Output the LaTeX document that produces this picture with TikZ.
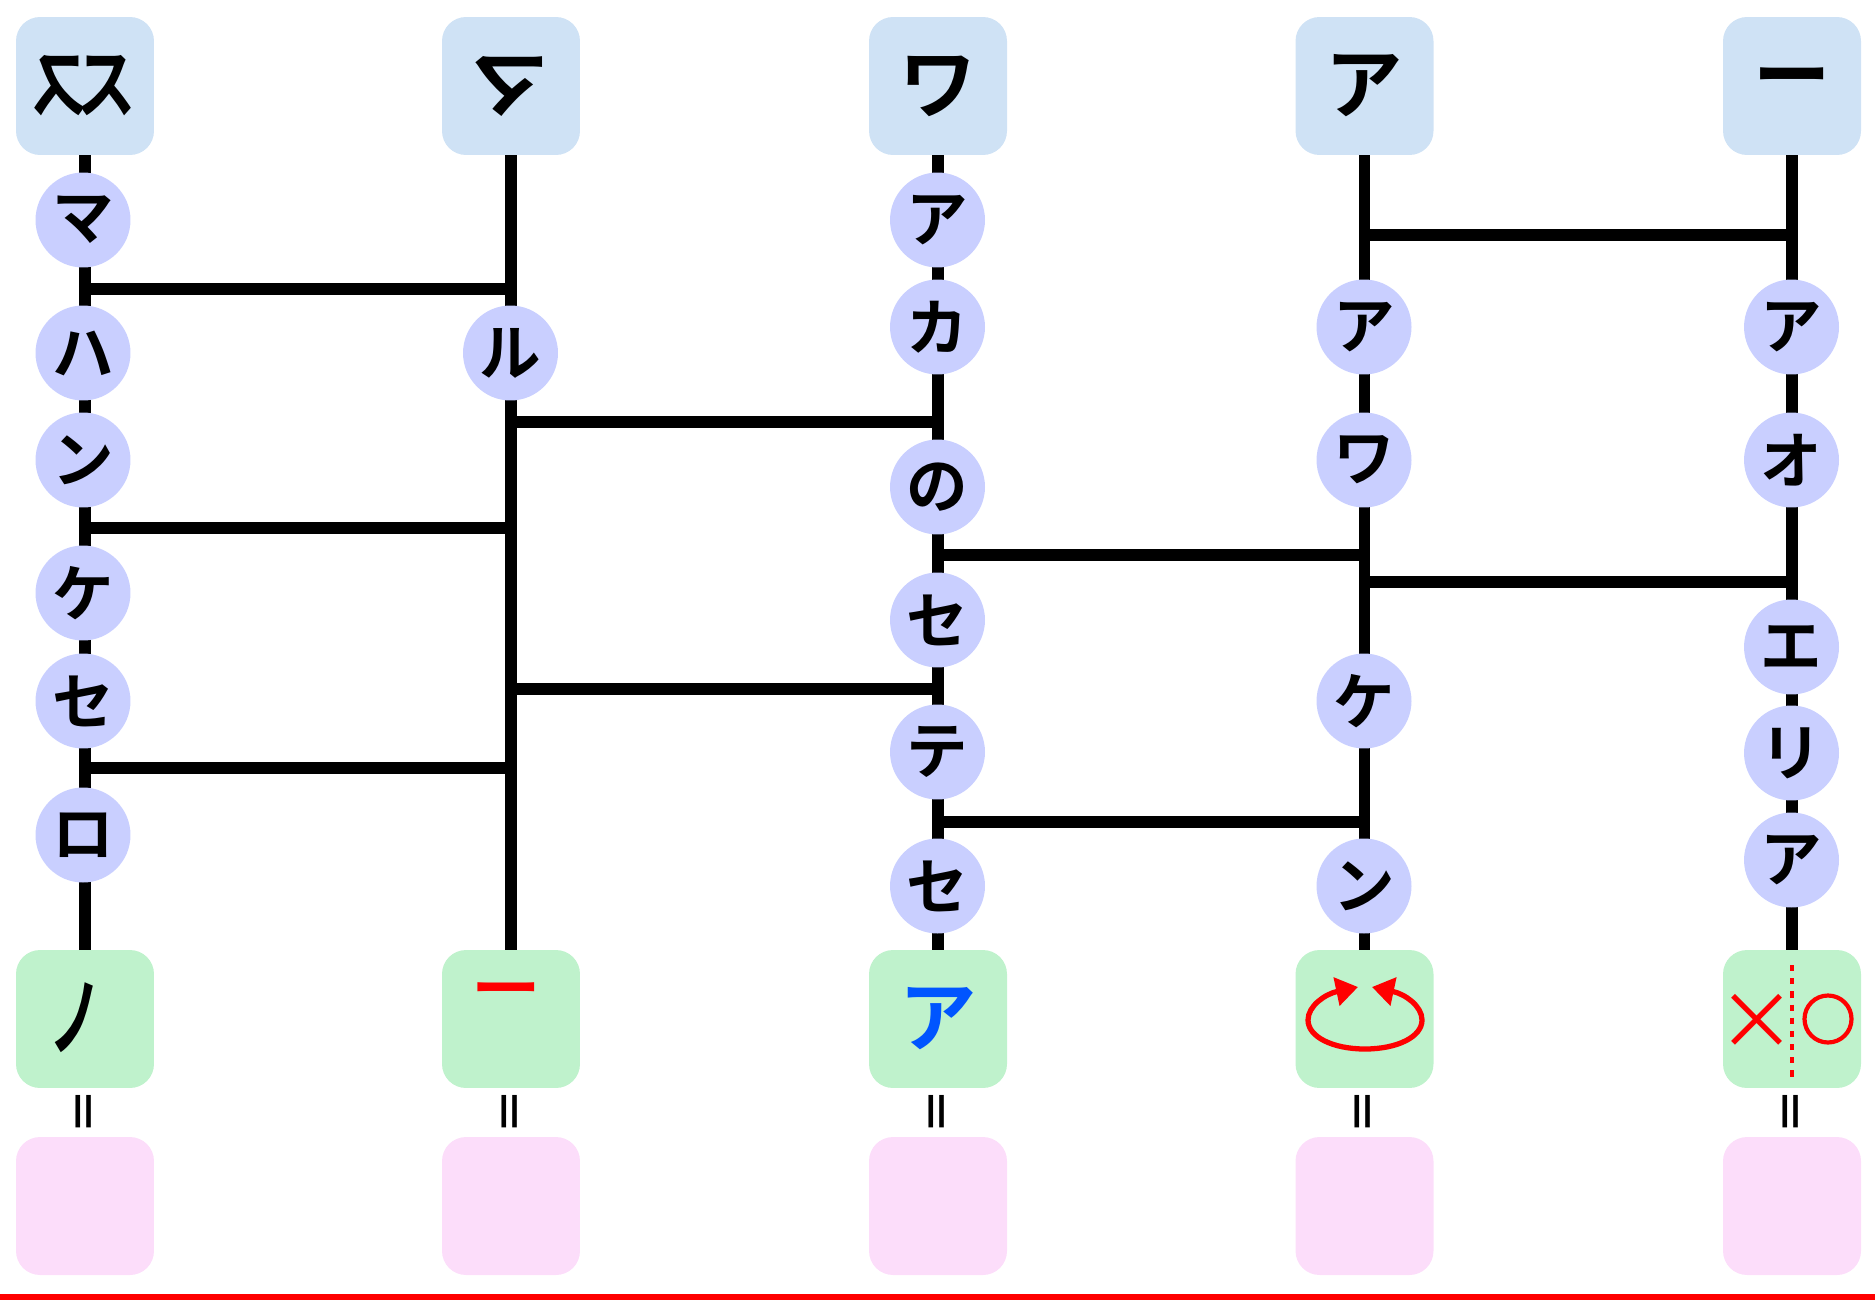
\documentclass[tikz,border=0pt]{standalone}
\usepackage{fontspec}
\setmainfont{Noto Sans CJK JP}[BoldFont={Noto Sans CJK JP Bold}]
\newfontfamily\ringfont{Noto Sans CJK JP}[FakeBold=4]
\usepackage{tikz}
\usetikzlibrary{arrows.meta, positioning, calc}
\definecolor{topblue}{HTML}{CFE2F5}
\definecolor{circblue}{HTML}{C9CFFF}
\definecolor{botgreen}{HTML}{BFF2CC}
\definecolor{botpink}{HTML}{FCDDFA}
\definecolor{ansblue}{HTML}{0055FF}
\tikzset{
  tilebox/.style={rounded corners=0.48cm, minimum size=2.76cm, inner sep=0pt, font=\fontsize{44}{44}\selectfont\bfseries},
  kana/.style={circle, fill=circblue, minimum size=1.9cm, inner sep=0pt, font=\fontsize{35}{35}\selectfont\bfseries},
  rail/.style={line width=6.5pt},
  rung/.style={line width=6.5pt},
  redline/.style={draw=red, line width=3pt},
}
\begin{document}
\begin{tikzpicture}[x=0.02cm, y=-0.02cm]
  \useasboundingbox (0,0) rectangle (1875,1304);

  % Top row
  \node[tilebox, fill=topblue] (top1) at (85,86) {};
  \node[tilebox, fill=topblue] (top2) at (511,86) {\reflectbox{マ}};
  \node[tilebox, fill=topblue] (top3) at (938,86) {ワ};
  \node[tilebox, fill=topblue] (top4) at (1364.5,86) {ア};
  \node[tilebox, fill=topblue] (top5) at (1792,86) {ー};

  % Glyph in the first tile
  \begin{scope}
    \clip (83,40) rectangle (150,130);
    \node[font=\fontsize{44}{44}\selectfont\bfseries, xscale=.77, anchor=west, inner sep=0pt] (sur) at (76,86) {ス};
  \end{scope}
  \begin{scope}
    \clip (83,40) rectangle (20,130);
    \node[font=\fontsize{44}{44}\selectfont\bfseries, xscale=-.77, anchor=west, inner sep=0pt] (sul) at (90,86) {ス};
  \end{scope}

  % Answer row
  \node[tilebox, fill=botgreen] (bot1) at (85,1019) {};
  \node[tilebox, fill=botgreen] (bot2) at (511,1019) {};
  \node[tilebox, fill=botgreen, text=ansblue] (bot3) at (938,1019) {ア};
  \node[tilebox, fill=botgreen] (bot4) at (1364.5,1019) {};
  \node[tilebox, fill=botgreen] (bot5) at (1792,1019) {};
  \node[font=\fontsize{44}{44}\selectfont\bfseries, xscale=.68, yscale=1.12] (no1) at (76,1018) {ノ};
  \node[font=\fontsize{44}{44}\selectfont\bfseries, text=red, xscale=.9, yscale=.75] (dash2) at (506.5,996) {ー};

  % Empty tiles and the signs above them
  \foreach \i/\x in {1/85, 2/511, 3/938, 4/1364.5, 5/1792} {
    \node[tilebox, fill=botpink] (pink\i) at (\x,1206) {};
    \node[rotate=90, font=\fontsize{26}{26}\selectfont\bfseries] (eq\i) at (\x+3.5,1112) {＝};
  }

  % Rails
  \foreach \i in {1,...,5}
    \draw[rail] (top\i) -- (bot\i);

  % Rungs
  \foreach \a/\b/\y in {1/2/289, 1/2/528, 1/2/768, 2/3/422, 2/3/689, 3/4/555, 3/4/822, 4/5/235, 4/5/582}
    \draw[rung] (top\a |- 0,\y) -- (top\b |- 0,\y);

  % Kana on the rails
  \foreach \n/\t/\y in {a/マ/220, b/ハ/353, c/ン/460, d/ケ/593, e/セ/701, f/ロ/835}
    \node[kana] (one\n) at (83,\y) {\t};
  \node[kana] (twoa) at (510.5,353) {ル};
  \foreach \n/\t/\y in {a/ア/220, b/カ/327, c/の/487, d/セ/620, e/テ/752, f/セ/886}
    \node[kana] (three\n) at (937.5,\y) {\t};
  \foreach \n/\t/\y in {a/ア/327, b/ワ/460, c/ケ/701, d/ン/886}
    \node[kana] (four\n) at (1364,\y) {\t};
  \foreach \n/\t/\y in {a/ア/327, b/オ/460, c/エ/647, d/リ/753, e/ア/860}
    \node[kana] (five\n) at (1791.5,\y) {\t};

  % Loop sign
  \coordinate (loopl) at (1358,987);
  \coordinate (loopr) at (1372,987);
  \draw[redline, {Triangle[length=22*0.02cm, width=28*0.02cm]}-{Triangle[length=22*0.02cm, width=28*0.02cm]}]
    (loopl) .. controls (1325,994) and (1308,1006) .. (1308,1020)
    .. controls (1308,1037) and (1333,1049) .. (1365,1049)
    .. controls (1397,1049) and (1422,1037) .. (1422,1020)
    .. controls (1422,1006) and (1405,994) .. (loopr);

  % Split sign
  \coordinate (splita) at (1792,965);
  \coordinate (splitb) at (1792,1077);
  \draw[draw=red, line width=2pt, dash pattern=on 3.5pt off 4pt] (splita) -- (splitb);
  \node[text=red, font=\fontsize{45}{45}\selectfont] (cross) at (1757,1022) {×};
  \node[text=red, font=\fontsize{31}{31}\ringfont] (ring) at (1828,1019) {○};

  % Bottom line
  \coordinate (basel) at (0,1297);
  \coordinate (baser) at (1875,1297);
  \draw[red, line width=3.4pt] (basel) -- (baser);
\end{tikzpicture}
\end{document}
